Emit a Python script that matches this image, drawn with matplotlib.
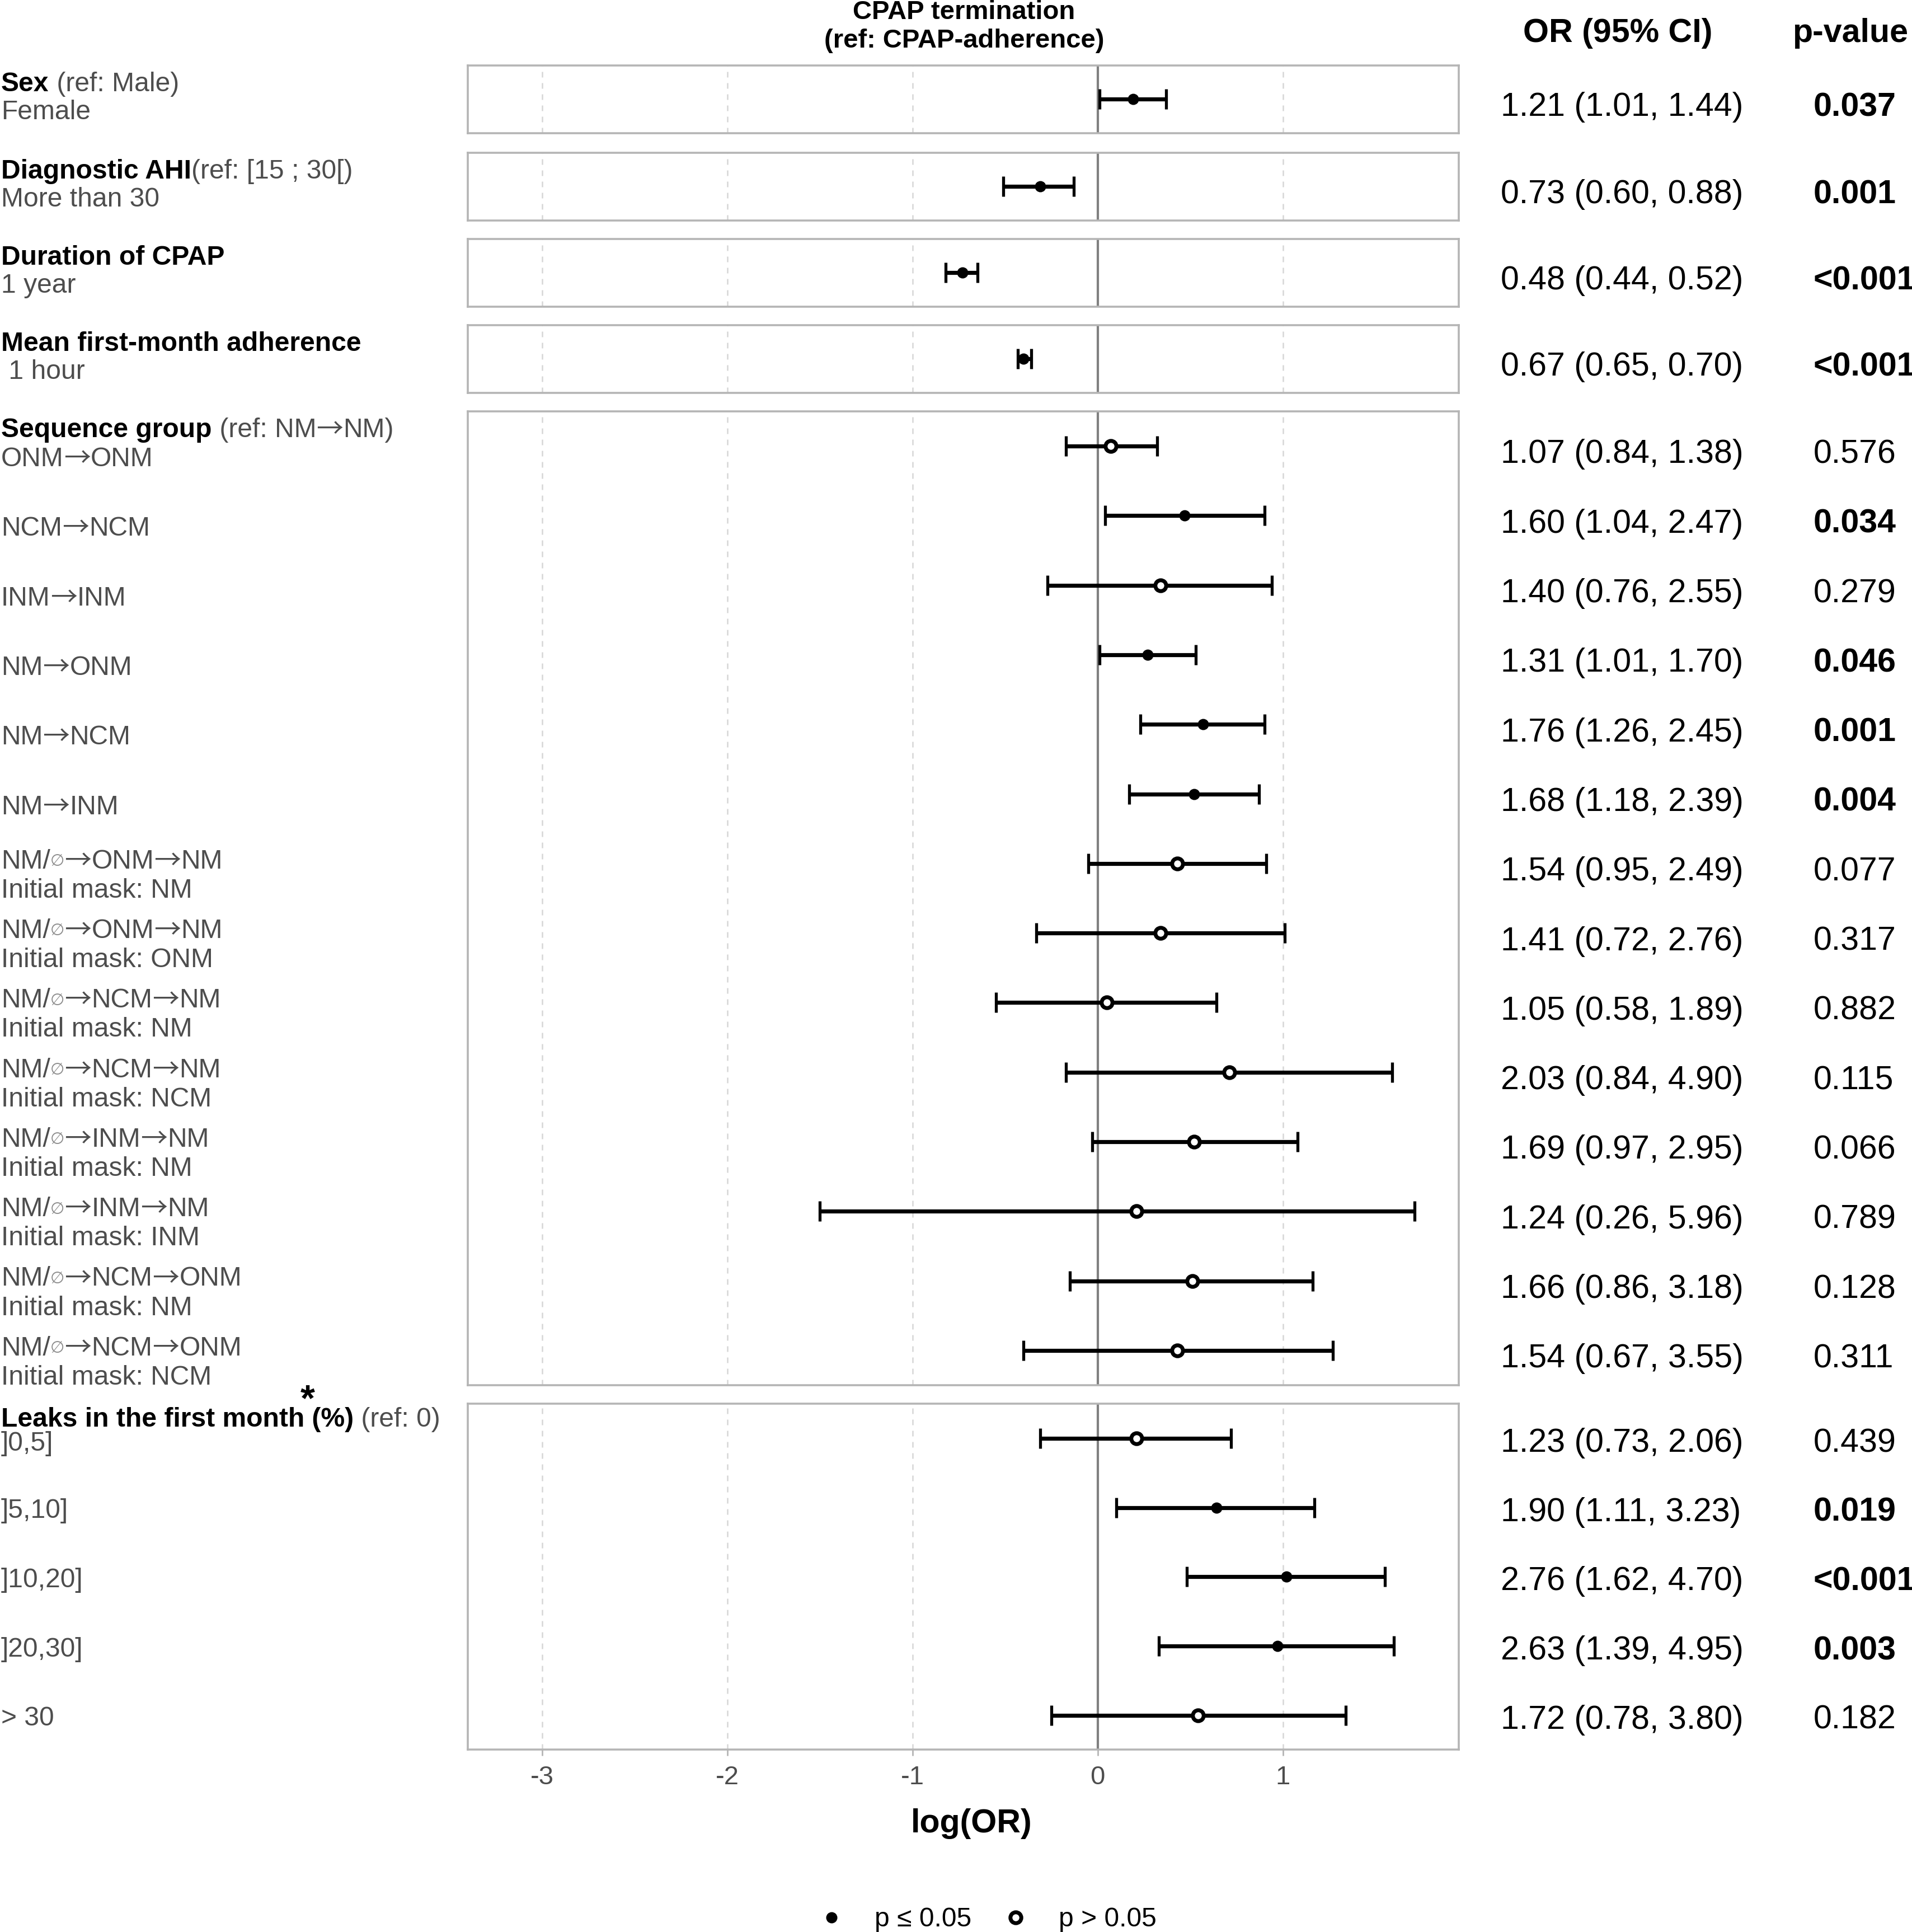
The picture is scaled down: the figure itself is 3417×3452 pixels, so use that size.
import numpy as np
import matplotlib
matplotlib.use("Agg")
import matplotlib.pyplot as plt
from matplotlib.lines import Line2D
from matplotlib import transforms

plt.rcParams['font.family'] = ['Liberation Sans', 'DejaVu Sans']

# ---- data ----
group_bold = ["Sex", "Diagnostic AHI", "Duration of CPAP", "Mean first-month adherence",
              "Sequence group", "Leaks in the first month"]
group_ref = [" (ref: Male)", "(ref: [15 ; 30[)", "", "", " (ref: NM\u2192NM)", " (ref: 0)"]
group_size = [1, 1, 1, 1, 14, 5]

row_labels = ["Female", "More than 30", "1 year", " 1 hour",
              "ONM\u2192ONM", "NCM\u2192NCM", "INM\u2192INM", "NM\u2192ONM", "NM\u2192NCM", "NM\u2192INM",
              "\u2192ONM\u2192NM", "\u2192ONM\u2192NM", "\u2192NCM\u2192NM", "\u2192NCM\u2192NM",
              "\u2192INM\u2192NM", "\u2192INM\u2192NM", "\u2192NCM\u2192ONM", "\u2192NCM\u2192ONM",
              "]0,5]", "]5,10]", "]10,20]", "]20,30]", "> 30"]
initial_mask = [None] * 10 + ["NM", "ONM", "NM", "NCM", "NM", "INM", "NM", "NCM"] + [None] * 5

# log(OR) and 95% CI as drawn
log_or = [0.19, -0.31, -0.73, -0.40,
          0.07, 0.47, 0.34, 0.27, 0.57, 0.52,
          0.43, 0.34, 0.05, 0.71, 0.52, 0.21, 0.51, 0.43,
          0.21, 0.64, 1.02, 0.97, 0.54]
log_lo = [0.01, -0.51, -0.82, -0.43,
          -0.17, 0.04, -0.27, 0.01, 0.23, 0.17,
          -0.05, -0.33, -0.55, -0.17, -0.03, -1.50, -0.15, -0.40,
          -0.31, 0.10, 0.48, 0.33, -0.25]
log_hi = [0.37, -0.13, -0.65, -0.36,
          0.32, 0.90, 0.94, 0.53, 0.90, 0.87,
          0.91, 1.01, 0.64, 1.59, 1.08, 1.71, 1.16, 1.27,
          0.72, 1.17, 1.55, 1.60, 1.34]

or_text = ["1.21 (1.01, 1.44)", "0.73 (0.60, 0.88)", "0.48 (0.44, 0.52)", "0.67 (0.65, 0.70)",
           "1.07 (0.84, 1.38)", "1.60 (1.04, 2.47)", "1.40 (0.76, 2.55)", "1.31 (1.01, 1.70)",
           "1.76 (1.26, 2.45)", "1.68 (1.18, 2.39)", "1.54 (0.95, 2.49)", "1.41 (0.72, 2.76)",
           "1.05 (0.58, 1.89)", "2.03 (0.84, 4.90)", "1.69 (0.97, 2.95)", "1.24 (0.26, 5.96)",
           "1.66 (0.86, 3.18)", "1.54 (0.67, 3.55)",
           "1.23 (0.73, 2.06)", "1.90 (1.11, 3.23)", "2.76 (1.62, 4.70)", "2.63 (1.39, 4.95)",
           "1.72 (0.78, 3.80)"]
p_text = ["0.037", "0.001", "<0.001", "<0.001",
          "0.576", "0.034", "0.279", "0.046", "0.001", "0.004",
          "0.077", "0.317", "0.882", "0.115", "0.066", "0.789", "0.128", "0.311",
          "0.439", "0.019", "<0.001", "0.003", "0.182"]

signif = [p.startswith("<") or float(p) <= 0.05 for p in p_text]

# ---- layout (reference pixel grid, 1553 x 1569) ----
W, H = 1553.0, 1569.0
panel_px = [(53, 108), (124, 179), (194, 249), (264, 319), (334, 1125), (1140, 1421)]
px_left, px_right = 380, 1185
GRAY = "#4d4d4d"
LAB_FS = 17.3
NUM_FS = 21.3

fig = plt.figure(figsize=(3417 / 200, 3452 / 200), dpi=200)


def fx(px):
    return px / W


def fy(py):
    return 1 - py / H


bold_kw = dict(fontsize=LAB_FS, fontweight="bold", color="black")
reg_kw = dict(fontsize=LAB_FS, color=GRAY)
arrow_kw = dict(fontsize=LAB_FS, color=GRAY, family=["Noto Sans CJK SC", "DejaVu Sans"])
empty_kw = dict(fontsize=10.5, color="#8c8c8c")


def split_arrows(s, kw):
    # arrows drawn as long thin arrows, the rest in the label font
    out = []
    parts = s.split("\u2192")
    for j, part in enumerate(parts):
        if j > 0:
            out.append(("\u2192", arrow_kw))
        if part:
            out.append((part, kw))
    return out


def chain(ax, x, y, tr, pieces):
    first, kw = pieces[0]
    t = ax.annotate(first, xy=(x, y), xycoords=tr, va="center", ha="left",
                    annotation_clip=False, **kw)
    arts = [t]
    for s, kw in pieces[1:]:
        t = ax.annotate(s, xy=(1, 0.5), xycoords=t, va="center", ha="left",
                        annotation_clip=False, **kw)
        arts.append(t)
    return arts


start = 0
for g, n in enumerate(group_size):
    top, bot = panel_px[g]
    ax = fig.add_axes([fx(px_left), fy(bot), fx(px_right - px_left), (bot - top) / H])
    ax.set_xlim(-3.40, 1.95)
    ax.set_ylim(n - 0.5, -0.5)
    for v in [-3, -2, -1, 1]:
        ax.axvline(v, color="#d6d6d6", lw=0.9, ls=(0, (4, 4)), zorder=0)
    ax.axvline(0, color="#808080", lw=1.5, zorder=1)
    for sp in ax.spines.values():
        sp.set_color("#b5b5b5")
        sp.set_linewidth(1.3)
    ax.set_yticks([])

    idx = list(range(start, start + n))
    ys = np.arange(n)
    x = np.array([log_or[i] for i in idx])
    lo = np.array([log_lo[i] for i in idx])
    hi = np.array([log_hi[i] for i in idx])
    ax.errorbar(x, ys, xerr=[x - lo, hi - x], fmt="none", ecolor="black",
                elinewidth=2.6, capsize=6.5, capthick=1.9, zorder=3)
    sig = np.array([signif[i] for i in idx])
    ax.plot(x[sig], ys[sig], ls="none", marker="o", ms=6.2, mfc="black", mec="black", zorder=4)
    ax.plot(x[~sig], ys[~sig], ls="none", marker="o", ms=7.0, mfc="white", mec="black",
            mew=2.5, zorder=4)

    tr = transforms.blended_transform_factory(fig.transFigure, ax.transData)
    lx = 0.0006

    # group header
    if n == 1:
        hdy = -0.22
    elif g == 4:
        hdy = -0.23
    else:
        hdy = -0.27
    if g == 5:
        month = chain(ax, lx, hdy, tr, [(group_bold[g], bold_kw)])[0]
        ax.annotate("*", xy=(1, 1), xycoords=month, xytext=(2, 4), textcoords="offset points",
                    ha="center", va="center", fontsize=24, fontweight="bold", color="black",
                    annotation_clip=False)
        t = ax.annotate(" (%)", xy=(1, 0.5), xycoords=month, va="center", ha="left",
                        annotation_clip=False, **bold_kw)
        ax.annotate(group_ref[g], xy=(1, 0.5), xycoords=t, va="center", ha="left",
                    annotation_clip=False, **reg_kw)
    else:
        pieces = [(group_bold[g], bold_kw)]
        if group_ref[g]:
            pieces += split_arrows(group_ref[g], reg_kw)
        chain(ax, lx, hdy, tr, pieces)

    # row labels and table columns
    for k, i in enumerate(idx):
        if initial_mask[i] is not None:
            chain(ax, lx, k - 0.03, tr,
                  [("NM/", reg_kw), ("\u2205", empty_kw)] + split_arrows(row_labels[i], reg_kw))
            ax.annotate("Initial mask: " + initial_mask[i], xy=(lx, k + 0.39), xycoords=tr,
                        va="center", ha="left", annotation_clip=False, **reg_kw)
        else:
            if n == 1:
                dy = 0.19
            elif g == 4:
                dy = 0.19
            else:
                dy = 0.08 if k == 0 else 0.05
            chain(ax, lx, k + dy, tr, split_arrows(row_labels[i], reg_kw))
        ty = k + (0.12 if g < 5 else 0.07)
        ax.annotate(or_text[i], xy=(fx(1219), ty), xycoords=tr, va="center", ha="left",
                    fontsize=NUM_FS, color="black", annotation_clip=False)
        ax.annotate(p_text[i], xy=(fx(1473), ty), xycoords=tr, va="center", ha="left",
                    fontsize=NUM_FS, color="black",
                    fontweight="bold" if signif[i] else "normal", annotation_clip=False)

    if g < 5:
        ax.set_xticks([])
    else:
        ax.set_xticks([-3, -2, -1, 0, 1])
        ax.set_xticklabels(["-3", "-2", "-1", "0", "1"])
        ax.tick_params(axis="x", length=4, width=1.0, color="#b5b5b5", labelcolor=GRAY,
                       labelsize=17, pad=6)
    start += n

# column headers
fig.text(fx(783), fy(10), "CPAP termination", ha="center", va="center",
         fontsize=17, fontweight="bold")
fig.text(fx(783), fy(33), "(ref: CPAP-adherence)", ha="center", va="center",
         fontsize=17, fontweight="bold")
fig.text(fx(1314), fy(27), "OR (95% CI)", ha="center", va="center",
         fontsize=NUM_FS, fontweight="bold")
fig.text(fx(1503), fy(27), "p-value", ha="center", va="center",
         fontsize=NUM_FS, fontweight="bold")
fig.text(fx(789), fy(1481), "log(OR)", ha="center", va="center",
         fontsize=NUM_FS, fontweight="bold")

# legend
h1 = Line2D([], [], ls="none", marker="o", ms=6.2, mfc="black", mec="black")
h2 = Line2D([], [], ls="none", marker="o", ms=7.0, mfc="white", mec="black", mew=2.5)
fig.legend([h1, h2], ["p \u2264 0.05", "p > 0.05"], loc="center",
           bbox_to_anchor=(fx(802), fy(1559)), ncol=2, frameon=False, fontsize=LAB_FS,
           handlelength=1.0, handletextpad=1.1, columnspacing=1.15)

fig.savefig("out.png", dpi=200)
